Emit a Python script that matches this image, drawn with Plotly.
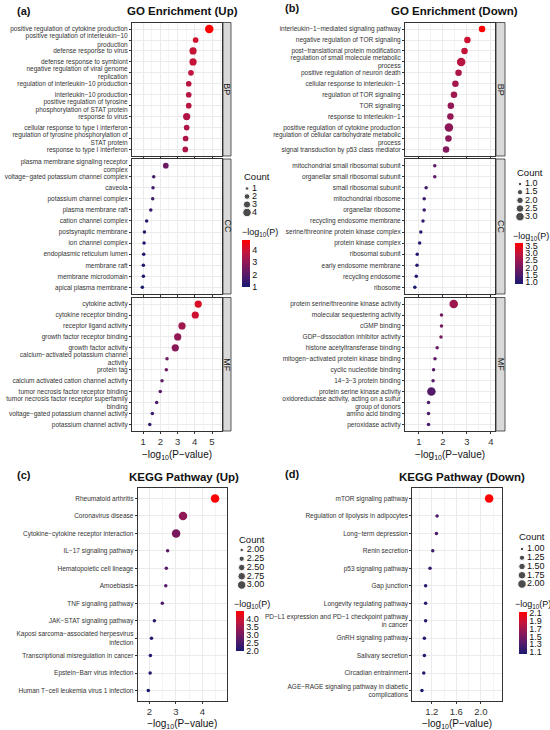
import plotly.graph_objects as go

# ---------------- data ----------------
# (a) GO Enrichment (Up)
a_bp_terms = [
    "positive regulation of cytokine production",
    "positive regulation of interleukin−10<br>production",
    "defense response to virus",
    "defense response to symbiont",
    "negative regulation of viral genome<br>replication",
    "regulation of interleukin−10 production",
    "interleukin−10 production",
    "positive regulation of tyrosine<br>phosphorylation of STAT protein",
    "response to virus",
    "cellular response to type I interferon",
    "regulation of tyrosine phosphorylation of<br>STAT protein",
    "response to type I interferon",
]
a_bp_logp = [4.84, 4.05, 3.90, 3.90, 3.78, 3.65, 3.65, 3.65, 3.53, 3.53, 3.47, 3.45]
a_bp_count = [4, 2, 3, 3, 2, 2, 2, 2, 3, 2, 2, 2]

a_cc_terms = [
    "plasma membrane signaling receptor<br>complex",
    "voltage−gated potassium channel complex",
    "caveola",
    "potassium channel complex",
    "plasma membrane raft",
    "cation channel complex",
    "postsynaptic membrane",
    "ion channel complex",
    "endoplasmic reticulum lumen",
    "membrane raft",
    "membrane microdomain",
    "apical plasma membrane",
]
a_cc_logp = [2.32, 1.62, 1.58, 1.56, 1.45, 1.21, 1.08, 1.06, 1.04, 1.02, 1.02, 0.96]
a_cc_count = [2, 1, 1, 1, 1, 1, 1, 1, 1, 1, 1, 1]

a_mf_terms = [
    "cytokine activity",
    "cytokine receptor binding",
    "receptor ligand activity",
    "growth factor receptor binding",
    "growth factor activity",
    "calcium−activated potassium channel<br>activity",
    "protein tag",
    "calcium activated cation channel activity",
    "tumor necrosis factor receptor binding",
    "tumor necrosis factor receptor superfamily<br>binding",
    "voltage−gated potassium channel activity",
    "potassium channel activity",
]
a_mf_logp = [4.20, 4.03, 3.26, 3.01, 2.87, 2.39, 2.35, 2.10, 2.00, 1.79, 1.54, 1.39]
a_mf_count = [3, 3, 3, 3, 3, 1, 1, 1, 1, 1, 1, 1]

# (b) GO Enrichment (Down)
b_bp_terms = [
    "interleukin−1−mediated signaling pathway",
    "negative regulation of TOR signaling",
    "post−translational protein modification",
    "regulation of small molecule metabolic<br>process",
    "positive regulation of neuron death",
    "cellular response to interleukin−1",
    "regulation of TOR signaling",
    "TOR signaling",
    "response to interleukin−1",
    "positive regulation of cytokine production",
    "regulation of cellular carbohydrate metabolic<br>process",
    "signal transduction by p53 class mediator",
]
b_bp_logp = [3.63, 3.02, 2.90, 2.76, 2.65, 2.52, 2.46, 2.33, 2.31, 2.25, 2.23, 2.13]
b_bp_count = [2, 2, 2, 3, 2, 2, 2, 2, 2, 3, 2, 2]

b_cc_terms = [
    "mitochondrial small ribosomal subunit",
    "organellar small ribosomal subunit",
    "small ribosomal subunit",
    "mitochondrial ribosome",
    "organellar ribosome",
    "recycling endosome membrane",
    "serine/threonine protein kinase complex",
    "protein kinase complex",
    "ribosomal subunit",
    "early endosome membrane",
    "recycling endosome",
    "ribosome",
]
b_cc_logp = [1.66, 1.66, 1.30, 1.22, 1.22, 1.17, 1.08, 1.03, 0.93, 0.92, 0.89, 0.83]
b_cc_count = [1, 1, 1, 1, 1, 1, 1, 1, 1, 1, 1, 1]

b_mf_terms = [
    "protein serine/threonine kinase activity",
    "molecular sequestering activity",
    "cGMP binding",
    "GDP−dissociation inhibitor activity",
    "histone acetyltransferase binding",
    "mitogen−activated protein kinase binding",
    "cyclic nucleotide binding",
    "14−3−3 protein binding",
    "protein serine kinase activity",
    "oxidoreductase activity, acting on a sulfur<br>group of donors",
    "amino acid binding",
    "peroxidase activity",
]
b_mf_logp = [2.45, 1.94, 1.94, 1.92, 1.76, 1.67, 1.61, 1.59, 1.52, 1.40, 1.40, 1.40]
b_mf_count = [3, 1, 1, 1, 1, 1, 1, 1, 3, 1, 1, 1]

# (c) KEGG Pathway (Up)
c_terms = [
    "Rheumatoid arthritis",
    "Coronavirus disease",
    "Cytokine−cytokine receptor interaction",
    "IL−17 signaling pathway",
    "Hematopoietic cell lineage",
    "Amoebiasis",
    "TNF signaling pathway",
    "JAK−STAT signaling pathway",
    "Kaposi sarcoma−associated herpesvirus<br>infection",
    "Transcriptional misregulation in cancer",
    "Epstein−Barr virus infection",
    "Human T−cell leukemia virus 1 infection",
]
c_logp = [4.48, 3.27, 3.01, 2.69, 2.64, 2.62, 2.49, 2.19, 2.08, 2.04, 2.03, 1.96]
c_count = [3, 3, 3, 2, 2, 2, 2, 2, 2, 2, 2, 2]

# (d) KEGG Pathway (Down)
d_terms = [
    "mTOR signaling pathway",
    "Regulation of lipolysis in adipocytes",
    "Long−term depression",
    "Renin secretion",
    "p53 signaling pathway",
    "Gap junction",
    "Longevity regulating pathway",
    "PD−L1 expression and PD−1 checkpoint pathway<br>in cancer",
    "GnRH signaling pathway",
    "Salivary secretion",
    "Circadian entrainment",
    "AGE−RAGE signaling pathway in diabetic<br>complications",
]
d_logp = [2.135, 1.287, 1.276, 1.216, 1.172, 1.10, 1.10, 1.10, 1.08, 1.08, 1.07, 1.04]
d_count = [2, 1, 1, 1, 1, 1, 1, 1, 1, 1, 1, 1]

# legend breaks
a_count_breaks = [1, 2, 3, 4]
b_count_breaks = [1.0, 1.5, 2.0, 2.5, 3.0]
c_count_breaks = [2.00, 2.25, 2.50, 2.75, 3.00]
d_count_breaks = [1.00, 1.25, 1.50, 1.75, 2.00]

# ---------------- style ----------------
W, H = 550, 730
FONT = "Arial, Liberation Sans, sans-serif"
TXT = "#333333"
LINE = "#333333"
GRID = "#EBEBEB"
D_MIN, D_MAX = 3.5, 8.5
COLORSCALE = [[0, "#191970"], [0.25, "#541A6A"], [0.5, "#8B1858"],
              [0.75, "#C4143A"], [1, "#FF0000"]]


def px_x(p):
    return min(max(p / W, 0), 1)


def px_y(p):
    return min(max(1 - p / H, 0), 1)


def dot_sizes(counts, lo, hi):
    return [(D_MIN ** 2 + (D_MAX ** 2 - D_MIN ** 2) * (c - lo) / (hi - lo)) ** 0.5
            for c in counts]


def note(text, x, y, size, xanchor="center", angle=0, color="#111111"):
    # annotation placed in figure pixels
    annotations.append(dict(text=text, xref="paper", yref="paper",
                            x=px_x(x), y=px_y(y), xanchor=xanchor,
                            yanchor="middle", textangle=angle, showarrow=False,
                            font=dict(size=size, color=color)))


fig = go.Figure()
layout = {}
shapes = []
annotations = []
n_ax = [0]


def new_axes():
    n_ax[0] += 1
    s = "" if n_ax[0] == 1 else str(n_ax[0])
    return "x" + s, "y" + s, "xaxis" + s, "yaxis" + s


def add_facet(terms, logp, counts, cnt_range, cax, x_px, y_px, xr, tick0, dtick,
              fmt, bottom, strip=None, strip_px=None):
    xa, ya, xk, yk = new_axes()
    fig.add_trace(go.Scatter(
        x=logp, y=terms, mode="markers", xaxis=xa, yaxis=ya,
        marker=dict(size=dot_sizes(counts, *cnt_range), color=logp,
                    coloraxis=cax, line=dict(width=0), opacity=1),
        showlegend=False, cliponaxis=False))
    layout[xk] = dict(
        domain=[px_x(x_px[0]), px_x(x_px[1])], anchor=ya, range=xr,
        tick0=tick0, dtick=dtick, tickformat=fmt, showticklabels=bottom,
        ticks="outside", ticklen=2, tickcolor=LINE, tickwidth=0.8,
        tickfont=dict(size=9.5, color=TXT), showgrid=True, gridcolor=GRID,
        gridwidth=0.8, zeroline=False, showline=True, mirror=True,
        linecolor=LINE, linewidth=1,
        minor=dict(dtick=dtick / 2, showgrid=True, gridcolor="#F4F4F4",
                   gridwidth=0.5),
    )
    if bottom:
        layout[xk]["title"] = dict(text="−log<sub>10</sub>(P−value)",
                                   font=dict(size=10, color="#111111"),
                                   standoff=4)
    layout[yk] = dict(
        domain=[px_y(y_px[1]), px_y(y_px[0])], anchor=xa,
        type="category", categoryorder="array", categoryarray=terms,
        range=[len(terms) - 0.4, -0.6], ticks="outside", ticklen=2,
        tickcolor=LINE, tickwidth=0.8, tickfont=dict(size=6.5, color=TXT),
        showgrid=True, gridcolor=GRID, gridwidth=0.8, zeroline=False,
        showline=True, mirror=True, linecolor=LINE, linewidth=1,
    )
    if strip:
        shapes.append(dict(type="rect", xref="paper", yref="paper",
                           x0=px_x(strip_px[0]), x1=px_x(strip_px[1]),
                           y0=px_y(y_px[1]), y1=px_y(y_px[0]),
                           fillcolor="#D9D9D9", line=dict(color=LINE, width=0.8)))
        note(strip, (strip_px[0] + strip_px[1]) / 2, (y_px[0] + y_px[1]) / 2,
             9, angle=90, color="#1A1A1A")


def add_count_legend(breaks, cnt_range, fmt, dot_x, title_y, y_first, y_last):
    xa, ya, xk, yk = new_axes()
    fig.add_trace(go.Scatter(
        x=[0] * len(breaks), y=breaks, mode="markers", xaxis=xa, yaxis=ya,
        marker=dict(size=dot_sizes(breaks, *cnt_range), color="black"),
        showlegend=False, cliponaxis=False, hoverinfo="skip"))
    fig.add_trace(go.Scatter(
        x=[5] * len(breaks), y=breaks, mode="text", xaxis=xa, yaxis=ya,
        text=[format(b, fmt) for b in breaks], textposition="middle right",
        textfont=dict(size=9, color="#111111"),
        showlegend=False, cliponaxis=False, hoverinfo="skip"))
    layout[xk] = dict(domain=[px_x(dot_x), px_x(dot_x + 20)], range=[0, 20],
                      visible=False, anchor=ya)
    layout[yk] = dict(domain=[px_y(y_last), px_y(y_first)],
                      range=[breaks[-1], breaks[0]], visible=False, anchor=xa)
    note("Count", dot_x - 5, title_y, 9.5, xanchor="left")


def coloraxis(bar_x, bar_top, bar_len, tick0, dtick, fmt, title_x, title_y):
    note("−log<sub>10</sub>(P)", title_x, title_y, 9, xanchor="left")
    return dict(colorscale=COLORSCALE, colorbar=dict(
        x=px_x(bar_x), xanchor="left", y=px_y(bar_top), yanchor="top",
        lenmode="pixels", len=bar_len, thickness=8, thicknessmode="pixels",
        xpad=0, ypad=0, outlinewidth=0, ticks="", tick0=tick0, dtick=dtick,
        tickformat=fmt, tickfont=dict(size=9, color="#111111")))


# ---------------- panels ----------------
AX_A, AX_B = (132, 222), (405, 495)
Y_BP, Y_CC, Y_MF = (22.5, 156), (159, 294), (297.5, 431)

add_facet(a_bp_terms, a_bp_logp, a_bp_count, (1, 4), "coloraxis", AX_A, Y_BP,
          [0.36, 5.58], 1, 1, "d", False, "BP", (223, 231))
add_facet(a_cc_terms, a_cc_logp, a_cc_count, (1, 4), "coloraxis", AX_A, Y_CC,
          [0.36, 5.58], 1, 1, "d", False, "CC", (223, 231))
add_facet(a_mf_terms, a_mf_logp, a_mf_count, (1, 4), "coloraxis", AX_A, Y_MF,
          [0.36, 5.58], 1, 1, "d", True, "MF", (223, 231))

add_facet(b_bp_terms, b_bp_logp, b_bp_count, (1, 3), "coloraxis2", AX_B, Y_BP,
          [0.42, 4.17], 1, 1, "d", False, "BP", (496, 505))
add_facet(b_cc_terms, b_cc_logp, b_cc_count, (1, 3), "coloraxis2", AX_B, Y_CC,
          [0.42, 4.17], 1, 1, "d", False, "CC", (496, 505))
add_facet(b_mf_terms, b_mf_logp, b_mf_count, (1, 3), "coloraxis2", AX_B, Y_MF,
          [0.42, 4.17], 1, 1, "d", True, "MF", (496, 505))

add_facet(c_terms, c_logp, c_count, (2, 3), "coloraxis3", (137.7, 226.7),
          (488, 701), [1.56, 4.92], 2, 1, "d", True)
add_facet(d_terms, d_logp, d_count, (1, 2), "coloraxis4", (412.3, 501.7),
          (488, 701), [0.883, 2.34], 1.2, 0.4, ".1f", True)

add_count_legend(a_count_breaks, (1, 4), "d", 247, 177, 188.5, 212.5)
add_count_legend(b_count_breaks, (1, 3), ".1f", 520, 172.7, 184, 216.7)
add_count_legend(c_count_breaks, (2, 3), ".2f", 241.7, 539, 550, 585)
add_count_legend(d_count_breaks, (1, 2), ".2f", 522, 536.7, 549, 584)

layout["coloraxis"] = coloraxis(242, 240, 47, 1, 1, "d", 240, 232)
layout["coloraxis2"] = coloraxis(515, 243.5, 41, 1.0, 0.5, ".1f", 511, 236)
layout["coloraxis3"] = coloraxis(236, 611, 40, 2.0, 0.5, ".1f", 232, 604)
layout["coloraxis4"] = coloraxis(519, 612, 42, 1.1, 0.2, ".1f", 513, 604)

# titles and panel labels
for txt, x, y in [("GO Enrichment (Up)", 182, 11), ("GO Enrichment (Down)", 454, 11),
                  ("KEGG Pathway (Up)", 184, 477), ("KEGG Pathway (Down)", 462, 477)]:
    note("<b>" + txt + "</b>", x, y, 11.5)
for txt, x, y in [("(a)", 24, 11), ("(b)", 292, 8), ("(c)", 24, 475), ("(d)", 292, 474)]:
    note("<b>" + txt + "</b>", x, y, 11)

fig.update_layout(
    width=W, height=H, autosize=False,
    margin=dict(l=0, r=0, t=0, b=0),
    paper_bgcolor="white", plot_bgcolor="white",
    font=dict(family=FONT, color=TXT),
    shapes=shapes, annotations=annotations, showlegend=False,
    **layout,
)

# drop the default page margin so the figure sits at the window corner
fig.write_html("out.html", config={"displayModeBar": False},
               post_script="document.body.style.margin='0';")
